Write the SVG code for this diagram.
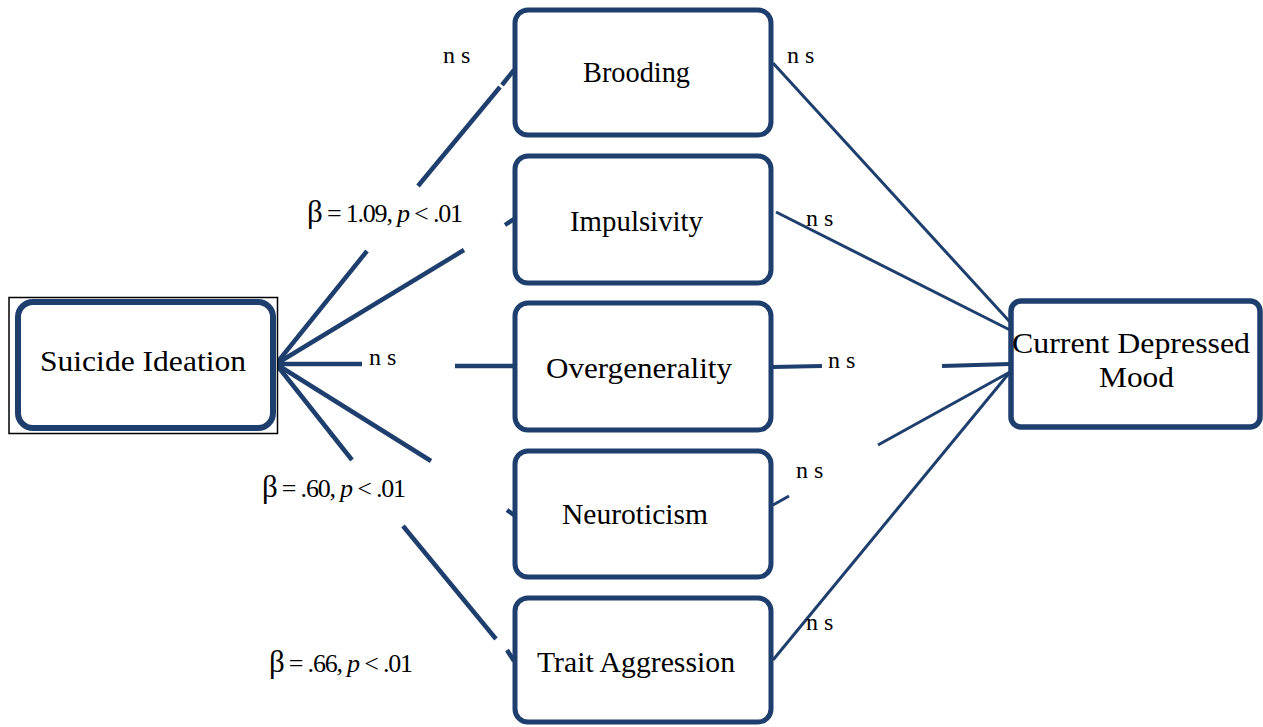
<svg xmlns="http://www.w3.org/2000/svg" width="1263" height="727" viewBox="0 0 1263 727">
<style>
.box{fill:#fff;stroke:#1e3f6e;stroke-width:5}
.lbl{font-family:"Liberation Serif","Times New Roman",serif;font-size:30px;fill:#000}
.ns{font-family:"Liberation Serif","Times New Roman",serif;font-size:24px;fill:#000}
.beta{font-family:"Liberation Serif","Times New Roman",serif;font-size:26px;fill:#000}
.b{font-size:31px}
.cl{stroke:#1e3f6e;stroke-width:4.5;fill:none}
.cr{stroke:#1e3f6e;stroke-width:3;fill:none}
</style>
<rect width="1263" height="727" fill="#fff"/>
<g id="connectors">
<line class="cl" x1="276" y1="364" x2="367" y2="251"/>
<line class="cl" x1="418" y1="186" x2="500" y2="87"/>
<line class="cl" x1="502" y1="85" x2="514" y2="70"/>
<line class="cl" x1="276" y1="364" x2="464" y2="250"/>
<line class="cl" x1="505" y1="225" x2="514" y2="219"/>
<line class="cl" x1="276" y1="364" x2="362" y2="364"/>
<line class="cl" x1="455" y1="366" x2="514" y2="366"/>
<line class="cl" x1="276" y1="364" x2="431" y2="461"/>
<line class="cl" x1="507" y1="510" x2="514" y2="515"/>
<line class="cl" x1="276" y1="364" x2="352" y2="460"/>
<line class="cl" x1="403" y1="526" x2="496" y2="639"/>
<line class="cl" x1="507" y1="650" x2="514" y2="661"/>
<line class="cr" x1="773" y1="63" x2="1010" y2="322"/>
<line class="cr" x1="776" y1="212" x2="1010" y2="330"/>
<line class="cr" x1="773" y1="367" x2="822" y2="366" style="stroke-width:4"/>
<line class="cr" x1="942" y1="366" x2="1010" y2="364" style="stroke-width:4"/>
<line class="cr" x1="773" y1="505" x2="789" y2="496"/>
<line class="cr" x1="878" y1="445" x2="1010" y2="372"/>
<line class="cr" x1="773" y1="660" x2="1010" y2="372"/>
</g>
<g id="suicide-ideation">
<rect x="9" y="297.5" width="268.5" height="136" fill="#fff" stroke="#000" stroke-width="1.5"/>
<rect class="box" x="18" y="302" width="255" height="126" rx="15" style="stroke-width:6"/>
<text class="lbl" x="40" y="371" textLength="206" lengthAdjust="spacingAndGlyphs">Suicide Ideation</text>
</g>
<g id="brooding">
<rect class="box" x="515" y="10" width="256" height="125" rx="13"/>
<text class="lbl" x="583" y="82" textLength="107" lengthAdjust="spacingAndGlyphs">Brooding</text>
</g>
<g id="impulsivity">
<rect class="box" x="515" y="156" width="256" height="127" rx="13"/>
<text class="lbl" x="570" y="231" textLength="133" lengthAdjust="spacingAndGlyphs">Impulsivity</text>
</g>
<g id="overgenerality">
<rect class="box" x="515" y="303" width="256" height="127" rx="13"/>
<text class="lbl" x="546" y="378" textLength="186" lengthAdjust="spacingAndGlyphs">Overgenerality</text>
</g>
<g id="neuroticism">
<rect class="box" x="515" y="451" width="256" height="126" rx="13"/>
<text class="lbl" x="562" y="524" textLength="146" lengthAdjust="spacingAndGlyphs">Neuroticism</text>
</g>
<g id="trait-aggression">
<rect class="box" x="515" y="598" width="256" height="124" rx="13"/>
<text class="lbl" x="537" y="672" textLength="198" lengthAdjust="spacingAndGlyphs">Trait Aggression</text>
</g>
<g id="current-depressed-mood">
<rect class="box" x="1011" y="301" width="249" height="126" rx="10" style="stroke-width:5.5"/>
<text class="lbl" x="1012" y="353" textLength="238" lengthAdjust="spacingAndGlyphs">Current Depressed</text>
<text class="lbl" x="1099" y="387" textLength="75" lengthAdjust="spacingAndGlyphs">Mood</text>
</g>
<g id="labels">
<text class="ns" x="443" y="63">n s</text>
<text class="ns" x="787" y="63">n s</text>
<text class="ns" x="806" y="226">n s</text>
<text class="ns" x="369" y="365">n s</text>
<text class="ns" x="828" y="368">n s</text>
<text class="ns" x="796" y="478">n s</text>
<text class="ns" x="806" y="630">n s</text>
<text class="beta" x="307" y="222" textLength="156" lengthAdjust="spacing"><tspan class="b">β</tspan> = 1.09, <tspan font-style="italic">p</tspan> &lt; .01</text>
<text class="beta" x="262" y="497" textLength="144" lengthAdjust="spacing"><tspan class="b">β</tspan> = .60, <tspan font-style="italic">p</tspan> &lt; .01</text>
<text class="beta" x="269" y="672" textLength="144" lengthAdjust="spacing"><tspan class="b">β</tspan> = .66, <tspan font-style="italic">p</tspan> &lt; .01</text>
</g>
</svg>
